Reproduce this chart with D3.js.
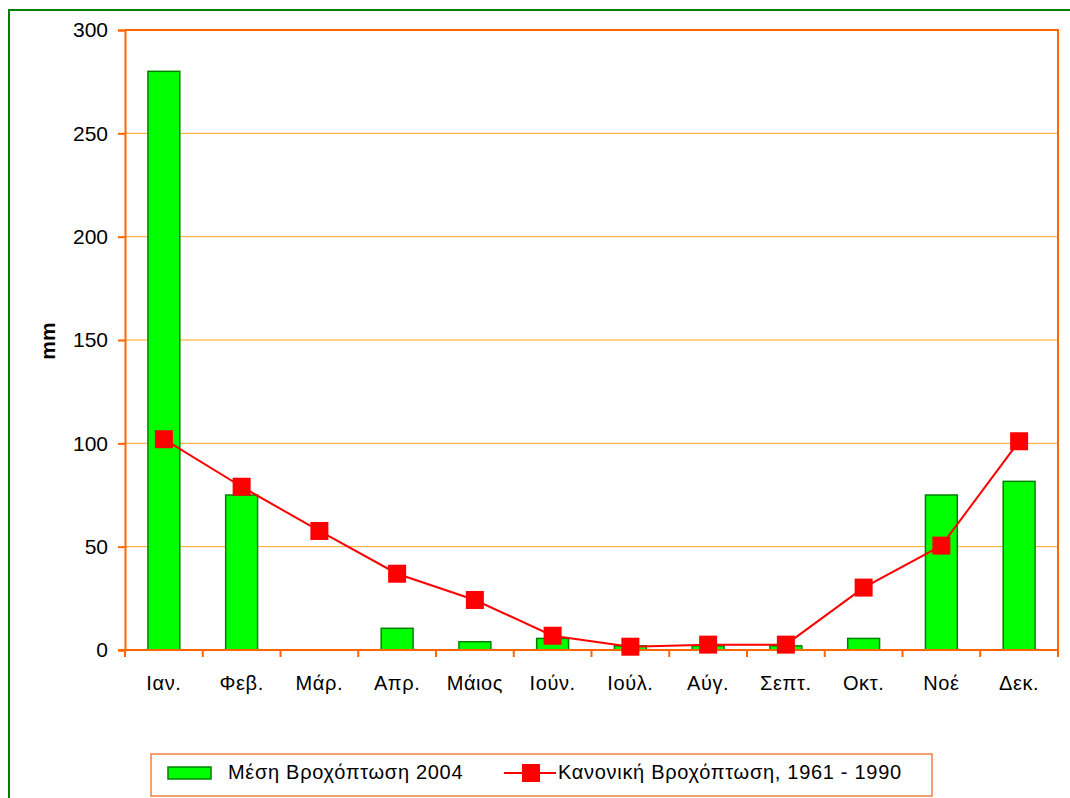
<!DOCTYPE html>
<html>
<head>
<meta charset="utf-8">
<script src="https://cdn.jsdelivr.net/npm/d3@7"></script>
<style>
  body { margin: 0; background: #fff; }
  svg { display: block; font-family: "Liberation Sans", Arial, sans-serif; }
</style>
</head>
<body>
<svg id="chart" width="1070" height="798"></svg>
<script>
const months = ["Ιαν.", "Φεβ.", "Μάρ.", "Απρ.", "Μάιος", "Ιούν.", "Ιούλ.", "Αύγ.", "Σεπτ.", "Οκτ.", "Νοέ", "Δεκ."];
const rain2004 = [280, 75, 0, 10.5, 4, 5.6, 2, 2, 2, 5.6, 75, 81.6];
const normal6190 = [102, 79, 57.6, 36.9, 24.2, 6.9, 1.6, 2.6, 2.6, 30.2, 50.5, 101];
const yTicks = [0, 50, 100, 150, 200, 250, 300];
const seriesNames = ["Μέση Βροχόπτωση 2004", "Κανονική Βροχόπτωση, 1961 - 1990"];

const svg = d3.select("#chart");
const margin = { left: 125, top: 30, right: 1058, bottom: 650 };
const fontSize = 20;

// outer frame (runs off the right and bottom edges)
svg.append("rect")
    .attr("x", 9).attr("y", 10)
    .attr("width", 1100).attr("height", 820)
    .attr("fill", "none")
    .attr("stroke", "#008000")
    .attr("stroke-width", 2);

const x = d3.scaleBand()
    .domain(months)
    .range([margin.left, margin.right])
    .paddingInner(0.59)
    .paddingOuter(0.295);

const xEdge = d3.scaleBand()
    .domain(months)
    .range([margin.left, margin.right]);

const y = d3.scaleLinear()
    .domain([0, 300])
    .range([margin.bottom, margin.top]);

// gridlines
svg.append("g")
    .selectAll("line")
    .data(yTicks.filter(d => d > 0 && d < 300))
    .join("line")
    .attr("x1", margin.left).attr("x2", margin.right)
    .attr("y1", d => y(d)).attr("y2", d => y(d))
    .attr("stroke", "#FFA31A")
    .attr("stroke-width", 1);

// y axis
const yAxis = svg.append("g")
    .attr("transform", `translate(${margin.left},0)`)
    .call(d3.axisLeft(y).tickValues(yTicks).tickSize(7).tickPadding(10));
yAxis.select(".domain").attr("stroke", "#FF6600").attr("stroke-width", 2);
yAxis.selectAll(".tick line").attr("stroke", "#FF6600").attr("stroke-width", 2);
yAxis.selectAll(".tick text")
    .attr("fill", "#000")
    .attr("font-size", 21)
    .attr("font-family", "Liberation Sans, Arial, sans-serif");

// top & right border of plot area
svg.append("path")
    .attr("d", `M${margin.left},${margin.top}H${margin.right}V${margin.bottom}`)
    .attr("fill", "none")
    .attr("stroke", "#FF6600")
    .attr("stroke-width", 2);

// bars
svg.append("g")
    .selectAll("rect")
    .data(rain2004)
    .join("rect")
    .attr("x", (d, i) => x(months[i]))
    .attr("y", d => y(d))
    .attr("width", x.bandwidth())
    .attr("height", d => y(0) - y(d))
    .attr("fill", "#00FF00")
    .attr("stroke", "#008000")
    .attr("stroke-width", d => d > 0 ? 1.5 : 0);

// x axis
const xAxisG = svg.append("g");
xAxisG.append("line")
    .attr("x1", margin.left - 7).attr("x2", margin.right)
    .attr("y1", margin.bottom).attr("y2", margin.bottom)
    .attr("stroke", "#FF6600").attr("stroke-width", 2);
xAxisG.selectAll("line.tick")
    .data(months.concat(["end"]))
    .join("line")
    .attr("class", "tick")
    .attr("x1", (d, i) => i < months.length ? xEdge(d) : margin.right)
    .attr("x2", (d, i) => i < months.length ? xEdge(d) : margin.right)
    .attr("y1", margin.bottom).attr("y2", margin.bottom + 7)
    .attr("stroke", "#FF6600").attr("stroke-width", 2);
xAxisG.selectAll("text")
    .data(months)
    .join("text")
    .attr("x", d => xEdge(d) + xEdge.bandwidth() / 2)
    .attr("y", 690)
    .attr("text-anchor", "middle")
    .attr("font-size", fontSize)
    .attr("letter-spacing", 0.6)
    .text(d => d);

// line
const line = d3.line()
    .x((d, i) => xEdge(months[i]) + xEdge.bandwidth() / 2)
    .y(d => y(d));
svg.append("path")
    .datum(normal6190)
    .attr("d", line)
    .attr("fill", "none")
    .attr("stroke", "#FF0000")
    .attr("stroke-width", 2);

const mk = 18;
svg.append("g")
    .selectAll("rect")
    .data(normal6190)
    .join("rect")
    .attr("x", (d, i) => xEdge(months[i]) + xEdge.bandwidth() / 2 - mk / 2)
    .attr("y", d => y(d) - mk / 2)
    .attr("width", mk).attr("height", mk)
    .attr("fill", "#FF0000");

// y axis title
svg.append("text")
    .attr("transform", "translate(55,341) rotate(-90)")
    .attr("text-anchor", "middle")
    .attr("font-size", 21)
    .attr("font-weight", "bold")
    .text("mm");

// legend
const legend = svg.append("g");
legend.append("rect")
    .attr("x", 151).attr("y", 754)
    .attr("width", 781).attr("height", 42)
    .attr("fill", "#fff")
    .attr("stroke", "#F08040")
    .attr("stroke-width", 1.5);
legend.append("rect")
    .attr("x", 168).attr("y", 767)
    .attr("width", 43).attr("height", 12)
    .attr("fill", "#00FF00")
    .attr("stroke", "#008000")
    .attr("stroke-width", 1.5);
legend.append("text")
    .attr("x", 228).attr("y", 779)
    .attr("font-size", fontSize)
    .attr("letter-spacing", 0.7)
    .text(seriesNames[0]);
legend.append("line")
    .attr("x1", 504).attr("x2", 556)
    .attr("y1", 773).attr("y2", 773)
    .attr("stroke", "#FF0000").attr("stroke-width", 2);
legend.append("rect")
    .attr("x", 531 - mk / 2).attr("y", 764)
    .attr("width", mk).attr("height", mk)
    .attr("fill", "#FF0000");
legend.append("text")
    .attr("x", 558).attr("y", 779)
    .attr("font-size", fontSize)
    .attr("letter-spacing", 0.7)
    .text(seriesNames[1]);
</script>
</body>
</html>
